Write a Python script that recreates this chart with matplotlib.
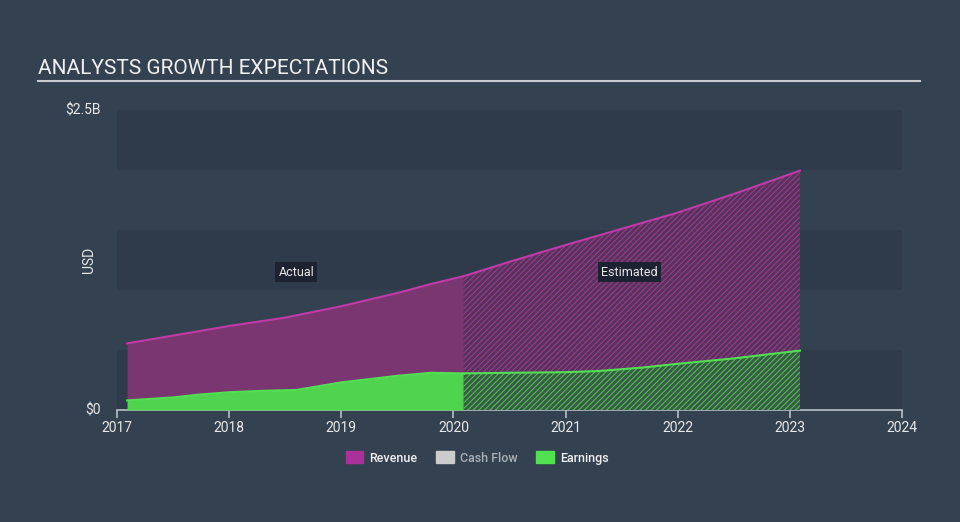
import matplotlib.pyplot as plt
import matplotlib.patches as mpatches
import numpy as np

plt.rcParams['font.family'] = ['Roboto', 'DejaVu Sans']
plt.rcParams['hatch.linewidth'] = 0.8

# data (billions USD)
rev_x = [2017.09, 2017.5, 2018.0, 2018.5, 2019.0, 2019.5, 2019.8, 2020.09]
rev_y = [0.555, 0.62, 0.70, 0.77, 0.865, 0.975, 1.05, 1.115]
rev_est_x = [2020.09, 2020.5, 2021.0, 2021.5, 2022.0, 2022.5, 2023.09]
rev_est_y = [1.115, 1.235, 1.375, 1.51, 1.645, 1.8, 1.995]

earn_x = [2017.09, 2017.5, 2017.75, 2018.0, 2018.3, 2018.6, 2019.0, 2019.5, 2019.8, 2020.09]
earn_y = [0.08, 0.105, 0.13, 0.148, 0.16, 0.167, 0.23, 0.285, 0.31, 0.305]
earn_est_x = [2020.09, 2020.5, 2021.0, 2021.3, 2021.7, 2022.0, 2022.5, 2023.09]
earn_est_y = [0.305, 0.31, 0.315, 0.325, 0.355, 0.385, 0.43, 0.495]

years = [2017, 2018, 2019, 2020, 2021, 2022, 2023, 2024]

bg = '#344150'
band = '#2f3b4a'
rev_fill = '#7a3670'
rev_line = '#c23aa8'
earn_fill = '#50d450'
earn_line = '#52e052'

fig = plt.figure(figsize=(9.6, 5.22), dpi=100, facecolor=bg)
ax = fig.add_axes([117/960, 112/522, 785/960, 300/522])
ax.set_facecolor(bg)

# alternating bands
for lo in [0, 1.0, 2.0]:
    ax.axhspan(lo, lo + 0.5, color=band, zorder=0, lw=0)

# actual
ax.fill_between(rev_x, 0, rev_y, color=rev_fill, lw=0, zorder=2)
ax.plot(rev_x, rev_y, color=rev_line, lw=1.5, zorder=4)
ax.fill_between(earn_x, 0, earn_y, color=earn_fill, lw=0, zorder=3)
ax.plot(earn_x, earn_y, color=earn_line, lw=1.5, zorder=4)

# estimated (hatched)
ax.fill_between(rev_est_x, 0, rev_est_y, facecolor='#56335a', edgecolor='#9c3a90',
                hatch='//////', lw=0, zorder=2)
ax.plot(rev_est_x, rev_est_y, color=rev_line, lw=1.5, zorder=4)
ax.fill_between(earn_est_x, 0, earn_est_y, facecolor='#3a5a48', edgecolor='#4cc04c',
                hatch='//////', lw=0, zorder=3)
ax.plot(earn_est_x, earn_est_y, color=earn_line, lw=1.5, zorder=4)

ax.set_xlim(2017, 2024)
ax.set_ylim(0, 2.5)
ax.set_xticks(years)
ax.set_xticklabels([str(y) for y in years])
ax.set_yticks([0, 2.5])
ax.set_yticklabels(['$0', '$2.5B'])
for s in ['top', 'right', 'left']:
    ax.spines[s].set_visible(False)
ax.spines['bottom'].set_color('#b8c0c8')
ax.spines['bottom'].set_linewidth(1.2)
ax.tick_params(axis='x', colors='#b8c0c8', labelcolor='#e8e8e8', length=6, width=1.2,
               labelsize=10, pad=2)
ax.tick_params(axis='y', length=0, labelcolor='#e8e8e8', labelsize=10, pad=12)
ax.get_yticklabels()[0].set_va('center')
ax.get_yticklabels()[1].set_va('center')
ax.set_ylabel('USD', color='#e8e8e8', fontsize=10)
ax.yaxis.set_label_coords(-21/785, 0.5)

box = dict(boxstyle='square,pad=0.25', facecolor='#1d2230', edgecolor='none')
ax.text(2018.6, 1.15, 'Actual', color='#e8e8e8', fontsize=9, ha='center', va='center', bbox=box, zorder=6)
ax.text(2021.57, 1.15, 'Estimated', color='#e8e8e8', fontsize=9, ha='center', va='center', bbox=box, zorder=6)

# title
fig.text(38/960, 1 - 68/522, 'ANALYSTS GROWTH EXPECTATIONS', color='#f0f0f0', fontsize=15,
         ha='left', va='center')
fig.add_artist(plt.Line2D([38/960, 920/960], [1 - 81/522, 1 - 81/522], color='#c8ccd0', lw=1.5))

handles = [mpatches.Patch(color='#a8329a', label='Revenue'),
           mpatches.Patch(color='#cccccc', label='Cash Flow'),
           mpatches.Patch(color='#50e050', label='Earnings')]
leg = fig.legend(handles=handles, loc='center', bbox_to_anchor=(0.497, 1 - 458/522), ncol=3,
                 frameon=False, fontsize=9, handlelength=1.4, handleheight=1.1,
                 columnspacing=1.5, handletextpad=0.5)
for t, c in zip(leg.get_texts(), ['#f0f0f0', '#aab0b8', '#f0f0f0']):
    t.set_color(c)
    t.set_fontweight('medium')

fig.savefig('out.png', dpi=100, facecolor=bg)
